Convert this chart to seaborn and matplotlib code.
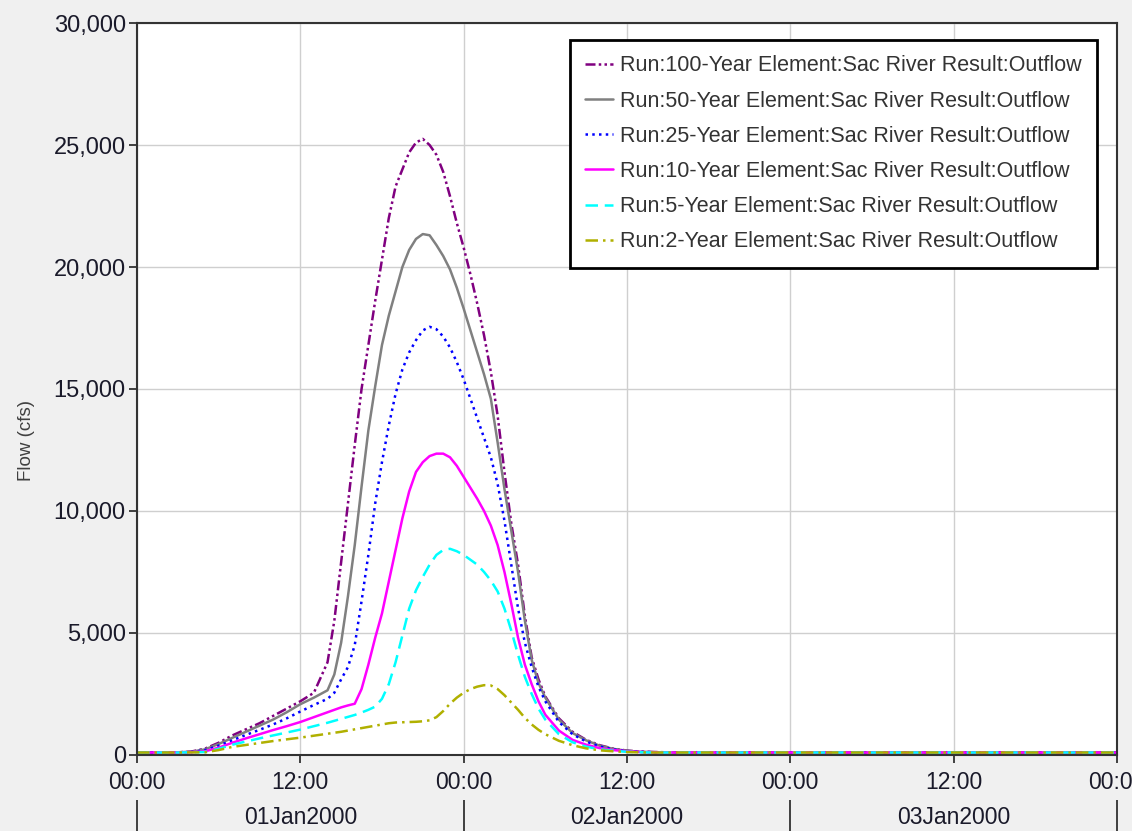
import matplotlib
matplotlib.use("Agg")
import matplotlib.pyplot as plt
from matplotlib.lines import Line2D
from matplotlib.ticker import FuncFormatter
import pandas as pd
import seaborn as sns

# ---------------- data (hours since 00:00 01Jan2000, flow in cfs) ----------------
hours = [0, 1, 2, 3, 4, 5, 6, 7, 8, 9, 10, 11, 12, 13,
         14, 14.5, 15, 15.5, 16, 16.5, 17, 17.5, 18, 18.5, 19, 19.5, 20, 20.5,
         21, 21.5, 22, 22.5, 23, 23.5, 24, 24.5, 25, 25.5, 26, 26.5, 27, 27.5,
         28, 28.5, 29, 29.5, 30,
         31, 32, 33, 34, 35, 36, 37, 38, 39, 40,
         48, 60, 72]

flow_100yr = [100, 100, 100, 110, 140, 260, 500, 800, 1050, 1300, 1600, 1900, 2200, 2550,
              3800, 5500, 7900, 10300, 12700, 15000, 16800, 18600, 20300, 22000, 23300, 24000,
              24700, 25100, 25250, 25000, 24600, 23900, 22900, 21800, 20800, 19700, 18500,
              17200, 15700, 13900, 11600, 9500, 7800, 5700, 4000, 3100, 2400,
              1500, 950, 620, 400, 260, 180, 140, 120, 110, 100,
              100, 100, 100]
flow_50yr = [100, 100, 100, 110, 130, 230, 450, 700, 950, 1200, 1450, 1750, 2080, 2350,
             2650, 3300, 4600, 6500, 8600, 11000, 13300, 15100, 16800, 18000, 19000, 20000,
             20700, 21150, 21350, 21300, 20900, 20450, 19900, 19150, 18300, 17400, 16500,
             15600, 14600, 12800, 10900, 9200, 7500, 5500, 3900, 2950, 2350,
             1450, 900, 600, 380, 250, 170, 130, 115, 105, 100,
             100, 100, 100]
flow_25yr = [100, 100, 100, 105, 120, 200, 380, 600, 820, 1030, 1250, 1500, 1780, 2050,
             2300, 2550, 3100, 3600, 4500, 6300, 8200, 10300, 12000, 13500, 14800, 15800,
             16500, 17000, 17400, 17550, 17450, 17150, 16700, 16100, 15400, 14600, 13800,
             13000, 12200, 11100, 9600, 7800, 6000, 4600, 3600, 2800, 2200,
             1350, 850, 550, 350, 230, 160, 125, 110, 100, 100,
             100, 100, 100]
flow_10yr = [100, 100, 100, 105, 115, 150, 300, 500, 680, 850, 1020, 1180, 1350, 1550,
             1750, 1850, 1950, 2030, 2100, 2700, 3700, 4800, 5800, 7100, 8400, 9700,
             10800, 11600, 12000, 12250, 12350, 12350, 12200, 11850, 11400, 10950, 10500,
             10000, 9400, 8600, 7500, 6200, 4800, 3700, 2900, 2200, 1650,
             1000, 620, 420, 280, 200, 150, 120, 110, 100, 100,
             100, 100, 100]
flow_5yr = [100, 100, 100, 100, 110, 120, 250, 420, 550, 680, 800, 920, 1040, 1180,
            1320, 1400, 1480, 1560, 1640, 1740, 1850, 1980, 2300, 2900, 3800, 4900,
            6000, 6750, 7300, 7800, 8200, 8400, 8450, 8350, 8200, 8000, 7800,
            7500, 7150, 6700, 6000, 5100, 4100, 3200, 2500, 1900, 1450,
            850, 520, 340, 230, 170, 130, 110, 100, 100, 100,
            100, 100, 100]
flow_2yr = [100, 100, 100, 100, 105, 110, 200, 330, 410, 490, 570, 640, 710, 790,
            870, 910, 950, 1000, 1050, 1100, 1150, 1200, 1250, 1300, 1330, 1340,
            1350, 1360, 1380, 1420, 1550, 1800, 2100, 2350, 2550, 2700, 2800,
            2860, 2850, 2700, 2450, 2150, 1850, 1520, 1250, 1030, 850,
            580, 400, 270, 190, 150, 120, 105, 100, 100, 100,
            100, 100, 100]

series_names = [
    "Run:100-Year Element:Sac River Result:Outflow",
    "Run:50-Year Element:Sac River Result:Outflow",
    "Run:25-Year Element:Sac River Result:Outflow",
    "Run:10-Year Element:Sac River Result:Outflow",
    "Run:5-Year Element:Sac River Result:Outflow",
    "Run:2-Year Element:Sac River Result:Outflow",
]
series_values = [flow_100yr, flow_50yr, flow_25yr, flow_10yr, flow_5yr, flow_2yr]

x_tick_hours = [0, 12, 24, 36, 48, 60, 72]
x_tick_labels = ["00:00", "12:00", "00:00", "12:00", "00:00", "12:00", "00:00"]
day_boundaries = [0, 24, 48, 72]
day_centers = [12, 36, 60]
day_labels = ["01Jan2000", "02Jan2000", "03Jan2000"]
y_ticks = [0, 5000, 10000, 15000, 20000, 25000, 30000]

# ---------------- styles ----------------
colors = ["#800080", "#808080", "#0000ff", "#ff00ff", "#00ffff", "#b0b000"]
dash_styles = [(4, 1.3, 1, 1.3, 1, 1.3), "", (1, 1.7), "", (5, 2.7), (5, 2.0, 1, 2.0)]
palette = dict(zip(series_names, colors))
dashes = dict(zip(series_names, dash_styles))

rows = []
for name, vals in zip(series_names, series_values):
    for h, v in zip(hours, vals):
        rows.append({"hour": h, "flow": v, "series": name})
df = pd.DataFrame(rows)

sns.set_style("white")
plt.rcParams["font.family"] = ["Liberation Sans", "DejaVu Sans"]

fig = plt.figure(figsize=(11.32, 8.31), dpi=100, facecolor="#f0f0f0")
ax = fig.add_axes([0.121, 0.0915, 0.8657, 0.8808])
ax.set_facecolor("white")

LW = 1.8
sns.lineplot(data=df, x="hour", y="flow", hue="series", style="series",
             hue_order=series_names, style_order=series_names,
             palette=palette, dashes=dashes, linewidth=LW, ax=ax, legend=False)

ax.set_xlim(0, 72)
ax.set_ylim(0, 30000)
ax.set_xticks(x_tick_hours, labels=x_tick_labels)
ax.set_yticks(y_ticks)
ax.yaxis.set_major_formatter(FuncFormatter(lambda v, p: f"{int(v):,}"))
ax.grid(True, color="#cfcfcf", linewidth=1)
ax.set_axisbelow(True)

ax.tick_params(axis="x", which="major", bottom=True, direction="out",
               length=6, width=1.2, color="#222222", labelsize=16.5,
               labelcolor="#1a1a2a", pad=5.5)
ax.tick_params(axis="y", which="major", left=True, direction="out",
               length=6, width=1.2, color="#222222", labelsize=17,
               labelcolor="#1a1a2a", pad=2)
ax.set_xlabel("")
ax.set_ylabel("Flow (cfs)", fontsize=13.5, color="#404040")
ax.yaxis.set_label_coords(-0.104, 0.43)

for s in ax.spines.values():
    s.set_color("#333333")
    s.set_linewidth(1.5)

# second row of x labels (dates)
sec = ax.secondary_xaxis(-0.0615)
sec.spines["bottom"].set_visible(False)
sec.set_xticks(day_boundaries, labels=["", "", "", ""])
sec.set_xticks(day_centers, labels=day_labels, minor=True)
sec.tick_params(which="major", direction="out", length=26, width=1.2, color="#222222")
sec.tick_params(which="minor", length=0, pad=4.5, labelsize=16.5, labelcolor="#1a1a2a")

# legend
handles = [Line2D([0], [0], color=c, lw=LW,
                  linestyle=(0, d) if d != "" else "-")
           for c, d in zip(colors, dash_styles)]
leg = ax.legend(handles, series_names, loc="upper right",
                bbox_to_anchor=(0.9796, 0.977), borderaxespad=0,
                fontsize=15.5, handlelength=1.3, handletextpad=0.3,
                labelspacing=0.66, borderpad=0.72, fancybox=False,
                framealpha=1, edgecolor="black")
leg.get_frame().set_linewidth(2)
for t in leg.get_texts():
    t.set_color("#333333")

fig.savefig("out.png", dpi=100, facecolor=fig.get_facecolor())
